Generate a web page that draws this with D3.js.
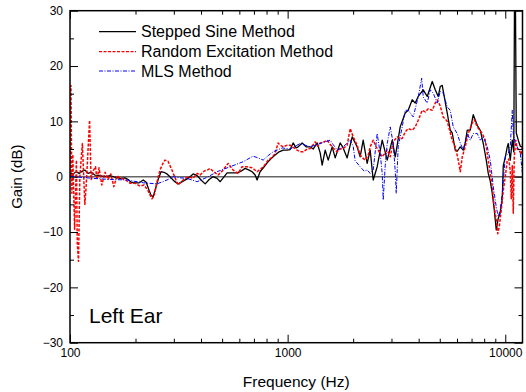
<!DOCTYPE html>
<html><head><meta charset="utf-8">
<script src="https://cdn.jsdelivr.net/npm/d3@7"></script>
<style>body{margin:0;background:#fff}svg{display:block}text{font-family:Arial,"Liberation Sans",sans-serif}</style>
</head><body><svg id="c" width="526" height="392"></svg>
<script>
const xMajor=[100,1000,10000];
const xMinor=[200,300,400,500,600,700,800,900,2000,3000,4000,5000,6000,7000,8000,9000];
const yMajor=[-30,-20,-10,0,10,20,30];
const yMinor=[-25,-15,-5,5,15,25];
const seriesNames=["Stepped Sine Method","Random Excitation Method","MLS Method"];
const steppedSine=[[100,0.7],[103,0.5],[107,0.9],[110,0.6],[114,1.0],[117,1.2],[121,0.6],[125,0.8],[130,0.3],[137,0.2],[145,0.0],[153,0.2],[161,-0.1],[170,-0.3],[179,-0.2],[185,-0.5],[191,-1.0],[199,-1.1],[208,-1.1],[217,-0.6],[224,-1.0],[231,-2.5],[236,-3.4],[241,-3.6],[246,-2.5],[254,-0.5],[262,0.9],[270,0.8],[279,0.5],[288,0.0],[301,-0.8],[314,-1.3],[331,-0.8],[349,-0.3],[368,0.5],[384,0.2],[400,-0.6],[418,-1.3],[436,-0.5],[454,0.0],[474,-0.3],[490,-0.9],[511,0.0],[527,0.7],[556,0.7],[586,0.7],[611,1.0],[638,1.5],[665,1.2],[687,0.9],[709,0.3],[724,-0.6],[747,0.9],[780,1.8],[805,2.5],[840,3.3],[876,3.9],[914,4.5],[954,4.8],[995,4.8],[1027,4.9],[1060,6.1],[1094,5.2],[1118,5.4],[1166,6.1],[1216,5.4],[1269,5.4],[1310,5.0],[1367,6.1],[1411,4.3],[1441,2.1],[1488,4.8],[1536,3.0],[1602,5.4],[1654,3.4],[1743,6.1],[1800,5.2],[1877,3.4],[1980,7.2],[2086,5.4],[2154,3.6],[2224,6.6],[2320,2.4],[2395,4.8],[2473,-0.6],[2579,1.8],[2720,6.6],[2868,3.0],[3024,6.6],[3122,3.6],[3290,9.0],[3469,11.5],[3581,12.0],[3736,13.9],[3857,13.3],[3981,14.5],[4198,15.7],[4380,14.5],[4618,17.2],[4767,15.7],[4920,14.5],[5025,16.3],[5132,16.5],[5242,14.5],[5412,11.5],[5586,8.4],[5706,7.9],[5890,4.8],[6016,4.6],[6210,5.4],[6411,4.8],[6548,6.1],[6688,8.4],[6904,8.4],[7127,11.2],[7435,9.3],[7675,8.4],[7923,6.0],[8179,3.0],[8354,0.6],[8532,-0.8],[8715,-3.0],[8901,-6.0],[9091,-9.6],[9286,-7.5],[9484,-6.5],[9687,-4.0],[9790,2.0],[10000,3.5],[10214,5.4],[10323,6.0],[10544,3.0],[10770,6.6],[10942,4.5],[11023,31],[11140,31],[11236,7.9],[11476,6.6],[11722,5.5],[12000,5.4]];
const randomExc=[[100,0],[101,16.5],[102,-3],[103,4],[105,-9.5],[107,3],[108,-12],[109.4,-15.3],[111,0],[114,6],[117,-5],[118.5,-2],[120,2],[123,10.2],[125,-0.5],[127.5,1],[131,1.8],[133,-0.5],[136,1.6],[140,-1.5],[145,0.8],[149.5,-0.5],[154,0.5],[159,-1.8],[164.5,0.2],[170,-0.3],[179,-0.5],[189,-1.2],[199,-1.2],[210,-1.7],[219,-1.5],[228,-2.5],[238,-4.0],[243,-3.5],[251,-1.0],[259,1.2],[268,2.5],[273,3.0],[282,2.8],[294,1.2],[304,-0.2],[314,-1.5],[331,-0.6],[349,0.0],[368,-0.3],[384,0.6],[396,0.3],[413,1.0],[427,1.2],[440,1.5],[454,1.0],[479,0.3],[500,1.0],[533,2.4],[562,1.2],[592,0.6],[618,1.8],[651,1.8],[687,1.6],[724,0.9],[763,1.6],[788,2.2],[813,3.0],[849,3.5],[876,4.2],[904,6.1],[924,5.7],[954,5.4],[995,5.7],[1027,5.7],[1071,5.2],[1106,4.8],[1141,4.5],[1179,4.5],[1229,5.0],[1269,5.1],[1310,5.8],[1338,6.3],[1381,5.5],[1411,6.1],[1472,6.3],[1520,6.6],[1569,5.8],[1602,5.4],[1654,4.8],[1689,4.5],[1743,5.0],[1800,5.1],[1877,5.7],[1939,8.7],[2001,7.2],[2086,5.7],[2154,3.9],[2224,3.3],[2271,3.0],[2345,3.9],[2395,5.4],[2473,6.6],[2552,5.4],[2607,4.8],[2720,3.6],[2808,4.3],[2868,4.8],[2961,3.6],[3056,6.3],[3187,7.2],[3290,6.9],[3361,6.9],[3469,8.1],[3581,8.7],[3736,8.4],[3857,9.0],[3981,10.2],[4154,12.0],[4289,11.7],[4426,12.3],[4618,12.0],[4767,13.3],[4869,13.9],[5025,12.8],[5187,10.8],[5412,10.0],[5586,8.0],[5706,6.6],[5890,5.4],[6081,3.0],[6210,0.9],[6344,3.6],[6548,5.4],[6760,7.8],[7053,9.7],[7204,10.3],[7435,9.0],[7840,7.8],[8091,6.6],[8265,4.2],[8532,0.6],[8715,-1.8],[8901,-5.4],[9091,-7.8],[9237,-10.3],[9385,-9.0],[9585,-6.0],[9790,-2.5],[10000,0.0],[10214,3.0],[10378,3.2],[10544,1.0],[10656,-4.0],[10770,2.0],[10884,-6.6],[11000,3.6],[11176,6.6],[11357,5.0],[11599,4.8],[11847,4.0],[12000,6.0]];
const mls=[[100,0.1],[111,-0.1],[127.5,-0.3],[153,-0.5],[183,-0.6],[217,-1.1],[251,-1.3],[279,-0.6],[298,0.0],[320,-0.2],[345,-0.3],[384,-0.9],[427,-0.1],[474,0.9],[544,1.8],[624,2.7],[694,3.7],[732,3.4],[772,3.0],[813,3.8],[858,4.5],[944,5.2],[1027,5.0],[1141,6.0],[1269,5.4],[1411,6.0],[1569,6.6],[1619,5.8],[1689,4.8],[1800,5.4],[1939,6.6],[2001,5.5],[2043,2.9],[2154,1.8],[2248,1.0],[2320,1.2],[2395,0.6],[2473,1.2],[2579,7.8],[2663,4.2],[2720,0.6],[2749,-4.2],[2808,2.0],[2868,6.0],[2961,9.0],[3056,6.0],[3122,1.0],[3155,-3.0],[3221,5.4],[3361,9.0],[3469,12.0],[3581,12.0],[3776,10.8],[3981,14.4],[4130,17.8],[4198,14.4],[4380,13.3],[4521,15.7],[4667,15.1],[4869,13.3],[5025,15.4],[5187,15.1],[5412,12.6],[5586,12.0],[5767,9.0],[6016,7.8],[6210,6.1],[6411,4.8],[6688,7.8],[6904,6.6],[7127,7.8],[7435,7.8],[7675,6.6],[7923,7.2],[8265,5.4],[8532,3.0],[8808,-1.8],[9091,-5.5],[9286,-7.2],[9484,-6.0],[9687,-3.0],[10000,3.6],[10323,4.2],[10544,5.5],[10770,12.0],[10884,7.8],[11117,6.0],[11357,5.4],[11722,4.2],[12000,0.6]];

const L=70,R=522.5,T=10.7,B=342.7;
const svg=d3.select("#c");
const x=d3.scaleLog().domain([100,12000]).range([L,R]);
const y=d3.scaleLinear().domain([-30,30]).range([B,T]);

svg.append("defs").append("clipPath").attr("id","clip").append("rect")
  .attr("x",L).attr("y",T).attr("width",R-L).attr("height",B-T);

// zero reference line
svg.append("line").attr("x1",L).attr("x2",R).attr("y1",y(0)).attr("y2",y(0))
  .attr("stroke","#666").attr("stroke-width",1.5);

const line=d3.line().x(d=>x(d[0])).y(d=>y(d[1]));
const g=svg.append("g").attr("clip-path","url(#clip)");
const styles=[
  {data:steppedSine,color:"#000",dash:null,w:1.3},
  {data:randomExc,color:"#ff0000",dash:"3,1.5",w:1.5},
  {data:mls,color:"#0000ff",dash:"4,1.5,1,1.5",w:1}
];
styles.forEach(s=>{
  g.append("path").datum(s.data).attr("d",line).attr("fill","none")
   .attr("stroke",s.color).attr("stroke-width",s.w).attr("stroke-dasharray",s.dash)
   .attr("stroke-linejoin","round");
});

// axes
function styleAxis(sel){sel.select(".domain").remove();sel.selectAll("line").attr("stroke","#000").attr("stroke-width",1);
  sel.selectAll("text").attr("font-size",12).attr("fill","#000").attr("font-family","Arial, Liberation Sans, sans-serif");}
const fmt=d=>d3.format("d")(d);
svg.append("g").attr("transform",`translate(0,${B})`).call(d3.axisBottom(x).tickValues(xMajor).tickFormat(fmt).tickSizeInner(-8).tickSizeOuter(0).tickPadding(6)).call(styleAxis);
svg.append("g").attr("transform",`translate(0,${B})`).call(d3.axisBottom(x).tickValues(xMinor).tickFormat("").tickSizeInner(-4).tickSizeOuter(0)).call(styleAxis);
svg.append("g").attr("transform",`translate(0,${T})`).call(d3.axisTop(x).tickValues(xMajor).tickFormat("").tickSizeInner(-8).tickSizeOuter(0)).call(styleAxis);
svg.append("g").attr("transform",`translate(0,${T})`).call(d3.axisTop(x).tickValues(xMinor).tickFormat("").tickSizeInner(-4).tickSizeOuter(0)).call(styleAxis);
svg.append("g").attr("transform",`translate(${L},0)`).call(d3.axisLeft(y).tickValues(yMajor).tickFormat(fmt).tickSizeInner(-8).tickSizeOuter(0).tickPadding(7)).call(styleAxis);
svg.append("g").attr("transform",`translate(${L},0)`).call(d3.axisLeft(y).tickValues(yMinor).tickFormat("").tickSizeInner(-4).tickSizeOuter(0)).call(styleAxis);
svg.append("g").attr("transform",`translate(${R},0)`).call(d3.axisRight(y).tickValues(yMajor).tickFormat("").tickSizeInner(-8).tickSizeOuter(0)).call(styleAxis);
svg.append("g").attr("transform",`translate(${R},0)`).call(d3.axisRight(y).tickValues(yMinor).tickFormat("").tickSizeInner(-4).tickSizeOuter(0)).call(styleAxis);

svg.append("rect").attr("x",L).attr("y",T).attr("width",R-L).attr("height",B-T)
  .attr("fill","none").attr("stroke","#000").attr("stroke-width",1.5);

// titles
svg.append("text").attr("x",(L+R)/2).attr("y",387).attr("text-anchor","middle").attr("font-size",15.5).text("Frequency (Hz)");
svg.append("text").attr("transform",`translate(22,${(T+B)/2}) rotate(-90)`).attr("text-anchor","middle").attr("font-size",15).text("Gain (dB)");
svg.append("text").attr("x",89).attr("y",322.5).attr("font-size",21).text("Left Ear");

// legend
const leg=svg.append("g");
[31.7,51.7,71].forEach((ly,i)=>{
  leg.append("line").attr("x1",99).attr("x2",136).attr("y1",ly).attr("y2",ly)
    .attr("stroke",styles[i].color).attr("stroke-width",1.2).attr("stroke-dasharray",styles[i].dash);
  leg.append("text").attr("x",141).attr("y",ly+5.6).attr("font-size",16).text(seriesNames[i]);
});
</script></body></html>
